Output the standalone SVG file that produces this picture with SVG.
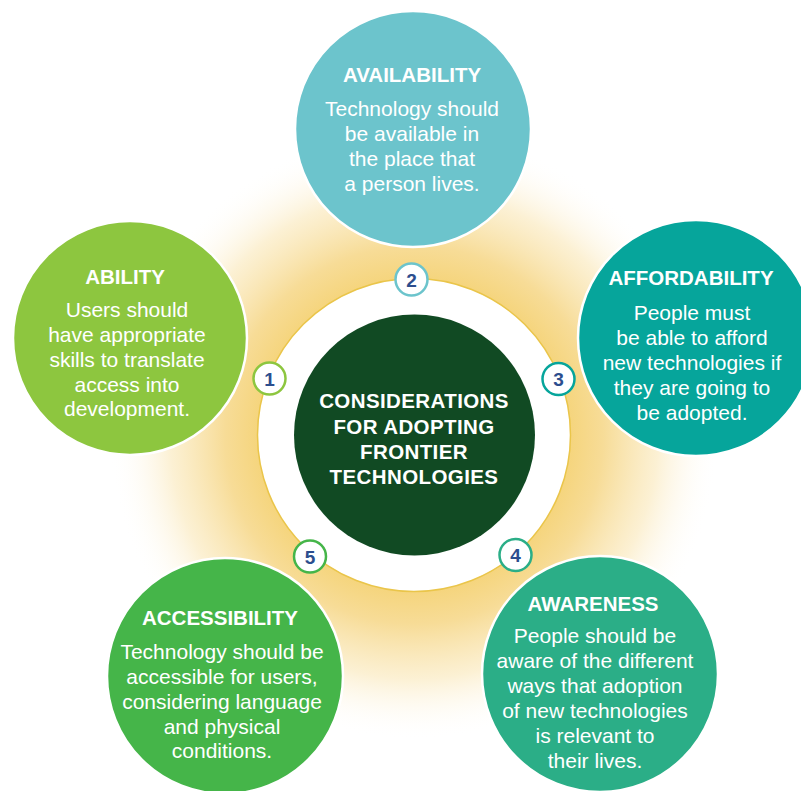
<svg xmlns="http://www.w3.org/2000/svg" width="801" height="791" viewBox="0 0 801 791">
<defs>
<radialGradient id="glow" gradientUnits="userSpaceOnUse" cx="414" cy="435" r="305">
<stop offset="0.5" stop-color="#F5D47A"/>
<stop offset="0.62" stop-color="#F7DC97"/>
<stop offset="0.8" stop-color="#FBEDC9" stop-opacity="0.8"/>
<stop offset="1" stop-color="#FFFFFF" stop-opacity="0"/>
</radialGradient>
<style>
.big{stroke:#FFFFFF;stroke-width:2.5}
.ttl{font-family:"Liberation Sans",Arial,sans-serif;font-weight:bold;font-size:20.5px;fill:#FFFFFF;text-anchor:middle}
.bd{font-family:"Liberation Sans",Arial,sans-serif;font-size:21px;fill:#FFFFFF;text-anchor:middle}
.num{fill:#FFFFFF;stroke-width:2.5}
.nt{font-family:"Liberation Sans",Arial,sans-serif;font-weight:bold;font-size:19px;fill:#2C4E8E;text-anchor:middle}
.ctr{font-family:"Liberation Sans",Arial,sans-serif;font-weight:bold;font-size:20.5px;letter-spacing:0.4px;fill:#FFFFFF;text-anchor:middle}
</style>
</defs>
<rect width="801" height="791" fill="#FFFFFF"/>
<circle cx="414" cy="435" r="305" fill="url(#glow)"/>
<g id="ring">
<circle cx="414" cy="435" r="156.5" fill="#FFFFFF" stroke="#EAC54A" stroke-width="1.5"/>
</g>
<g id="connectors"></g>
<g id="center">
<circle cx="414.5" cy="435" r="120.5" fill="#114A23"/>
<text class="ctr" x="414" y="408">CONSIDERATIONS</text>
<text class="ctr" x="414" y="434">FOR ADOPTING</text>
<text class="ctr" x="414" y="459">FRONTIER</text>
<text class="ctr" x="414" y="484">TECHNOLOGIES</text>
</g>
<g id="ability">
<circle class="big" cx="130" cy="338" r="117" fill="#8DC63F"/>
<text class="ttl" x="125" y="284">ABILITY</text>
<text class="bd" x="127" y="317">Users should</text>
<text class="bd" x="127" y="342">have appropriate</text>
<text class="bd" x="127" y="367">skills to translate</text>
<text class="bd" x="127" y="392">access into</text>
<text class="bd" x="127" y="416">development.</text>
</g>
<g id="availability">
<circle class="big" cx="413" cy="129" r="118" fill="#6CC4CC"/>
<text class="ttl" x="412" y="82">AVAILABILITY</text>
<text class="bd" x="412" y="116">Technology should</text>
<text class="bd" x="412" y="141">be available in</text>
<text class="bd" x="412" y="166">the place that</text>
<text class="bd" x="412" y="191">a person lives.</text>
</g>
<g id="affordability">
<circle class="big" cx="696" cy="338" r="118" fill="#06A59B"/>
<text class="ttl" x="691" y="285">AFFORDABILITY</text>
<text class="bd" x="692" y="320">People must</text>
<text class="bd" x="692" y="345">be able to afford</text>
<text class="bd" x="692" y="370">new technologies if</text>
<text class="bd" x="692" y="395">they are going to</text>
<text class="bd" x="692" y="420">be adopted.</text>
</g>
<g id="awareness">
<circle class="big" cx="600" cy="674" r="118" fill="#2BAE87"/>
<text class="ttl" x="593" y="611">AWARENESS</text>
<text class="bd" x="595" y="643">People should be</text>
<text class="bd" x="595" y="668">aware of the different</text>
<text class="bd" x="595" y="693">ways that adoption</text>
<text class="bd" x="595" y="718">of new technologies</text>
<text class="bd" x="595" y="743">is relevant to</text>
<text class="bd" x="595" y="768">their lives.</text>
</g>
<g id="accessibility">
<circle class="big" cx="225" cy="676" r="118" fill="#45B549"/>
<text class="ttl" x="220" y="625">ACCESSIBILITY</text>
<text class="bd" x="222" y="659">Technology should be</text>
<text class="bd" x="222" y="684">accessible for users,</text>
<text class="bd" x="222" y="709">considering language</text>
<text class="bd" x="222" y="734">and physical</text>
<text class="bd" x="222" y="758">conditions.</text>
</g>
<g id="badge-1">
<circle class="num" cx="269.5" cy="378.5" r="16" stroke="#8DC63F"/>
<text class="nt" x="269.5" y="385.5">1</text>
</g>
<g id="badge-2">
<circle class="num" cx="411.5" cy="279.5" r="16" stroke="#6CC4CC"/>
<text class="nt" x="411.5" y="286.5">2</text>
</g>
<g id="badge-3">
<circle class="num" cx="558.5" cy="379" r="16" stroke="#06A59B"/>
<text class="nt" x="558.5" y="386">3</text>
</g>
<g id="badge-4">
<circle class="num" cx="515.5" cy="555" r="16" stroke="#2BAE87"/>
<text class="nt" x="515.5" y="562">4</text>
</g>
<g id="badge-5">
<circle class="num" cx="310" cy="556.5" r="16" stroke="#45B549"/>
<text class="nt" x="310" y="563.5">5</text>
</g>
</svg>
